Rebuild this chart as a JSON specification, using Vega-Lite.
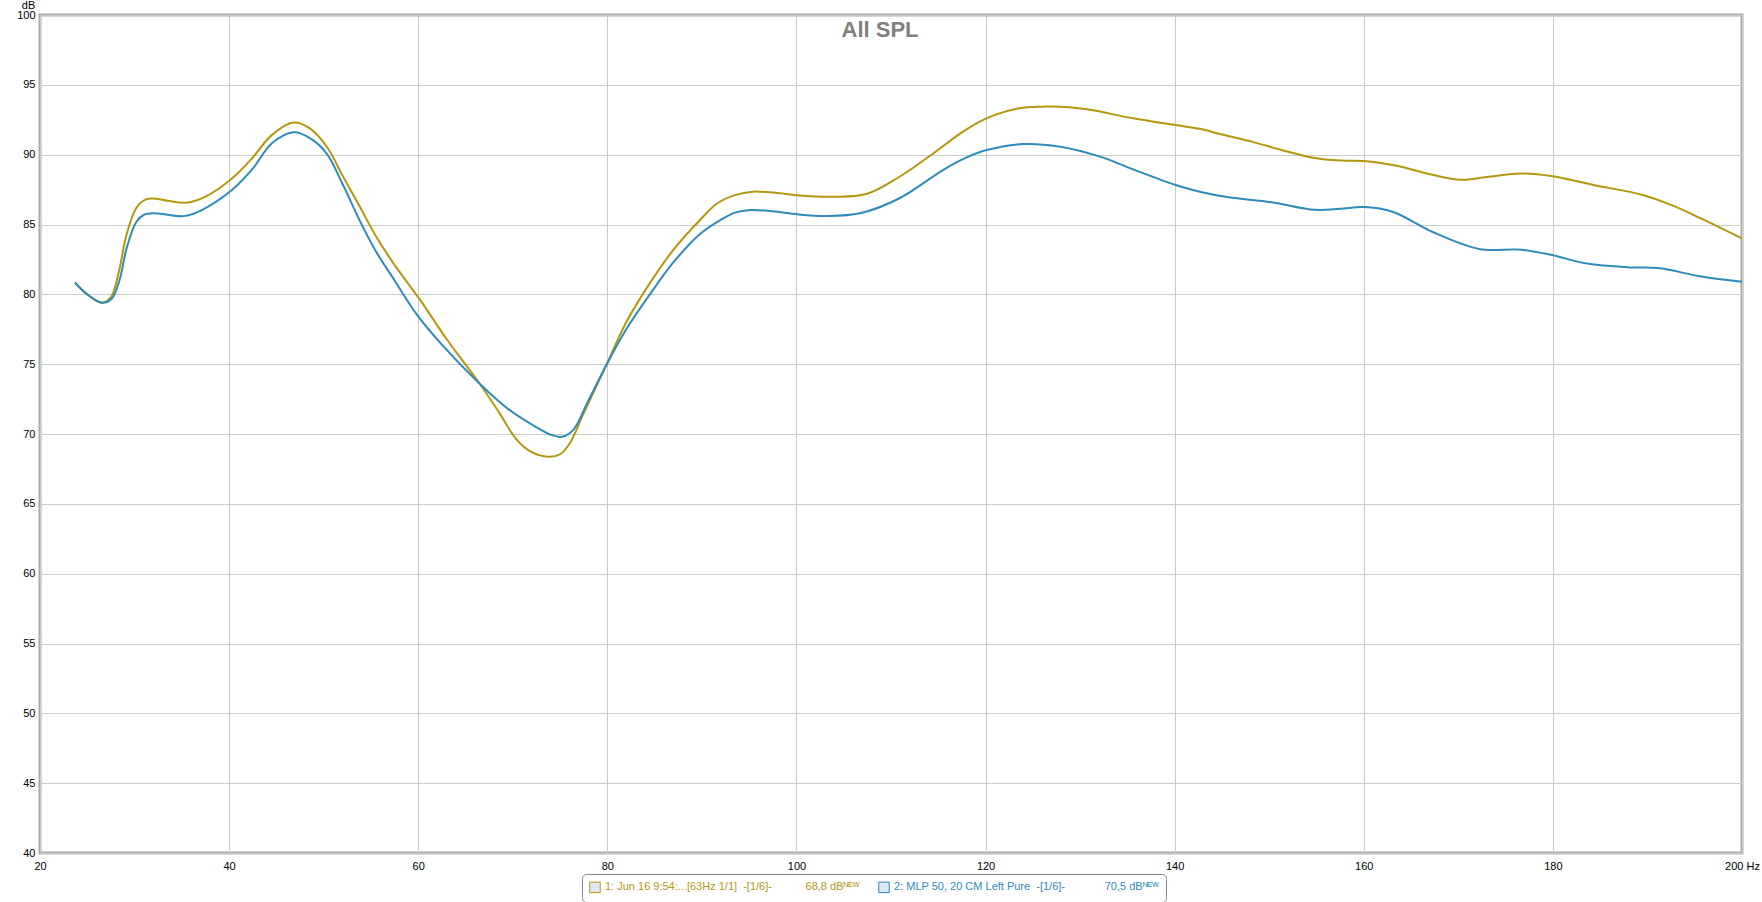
{
  "$schema": "https://vega.github.io/schema/vega-lite/v6.json",
  "width": 1702,
  "height": 838,
  "autosize": {"type": "none"},
  "padding": {"left": 40, "top": 15, "right": 20, "bottom": 49},
  "background": "white",
  "config": {
    "font": "Liberation Sans",
    "view": {"stroke": "#ababab", "strokeWidth": 3},
    "axis": {"grid": true, "gridColor": "#cbcbcb", "gridWidth": 1, "domain": false, "ticks": false, "labelFont": "Liberation Sans", "labelFontSize": 11, "labelColor": "#000000", "labelOverlap": false}
  },
  "title": {"text": "All SPL", "fontSize": 22, "fontWeight": "bold", "color": "#808080", "font": "Liberation Sans", "anchor": "middle", "frame": "group", "offset": 0, "dy": 43, "dx": -11},
  "data": {"values": [
    {"series": "1: Jun 16 9:54:...[63Hz 1/1]", "hz": 23.7, "db": 80.8},
    {"series": "1: Jun 16 9:54:...[63Hz 1/1]", "hz": 25.0, "db": 80.0},
    {"series": "1: Jun 16 9:54:...[63Hz 1/1]", "hz": 26.5, "db": 79.4},
    {"series": "1: Jun 16 9:54:...[63Hz 1/1]", "hz": 27.5, "db": 79.8},
    {"series": "1: Jun 16 9:54:...[63Hz 1/1]", "hz": 28.3, "db": 81.5},
    {"series": "1: Jun 16 9:54:...[63Hz 1/1]", "hz": 29.2, "db": 84.4},
    {"series": "1: Jun 16 9:54:...[63Hz 1/1]", "hz": 30.2, "db": 86.2},
    {"series": "1: Jun 16 9:54:...[63Hz 1/1]", "hz": 31.2, "db": 86.8},
    {"series": "1: Jun 16 9:54:...[63Hz 1/1]", "hz": 32.2, "db": 86.85},
    {"series": "1: Jun 16 9:54:...[63Hz 1/1]", "hz": 33.5, "db": 86.7},
    {"series": "1: Jun 16 9:54:...[63Hz 1/1]", "hz": 35.5, "db": 86.56},
    {"series": "1: Jun 16 9:54:...[63Hz 1/1]", "hz": 37.5, "db": 87.0},
    {"series": "1: Jun 16 9:54:...[63Hz 1/1]", "hz": 40.3, "db": 88.3},
    {"series": "1: Jun 16 9:54:...[63Hz 1/1]", "hz": 42.5, "db": 89.8},
    {"series": "1: Jun 16 9:54:...[63Hz 1/1]", "hz": 44.5, "db": 91.4},
    {"series": "1: Jun 16 9:54:...[63Hz 1/1]", "hz": 46.8, "db": 92.3},
    {"series": "1: Jun 16 9:54:...[63Hz 1/1]", "hz": 48.5, "db": 91.9},
    {"series": "1: Jun 16 9:54:...[63Hz 1/1]", "hz": 50.3, "db": 90.6},
    {"series": "1: Jun 16 9:54:...[63Hz 1/1]", "hz": 52.0, "db": 88.5},
    {"series": "1: Jun 16 9:54:...[63Hz 1/1]", "hz": 53.8, "db": 86.3},
    {"series": "1: Jun 16 9:54:...[63Hz 1/1]", "hz": 55.5, "db": 84.2},
    {"series": "1: Jun 16 9:54:...[63Hz 1/1]", "hz": 57.4, "db": 82.2},
    {"series": "1: Jun 16 9:54:...[63Hz 1/1]", "hz": 60.2, "db": 79.6},
    {"series": "1: Jun 16 9:54:...[63Hz 1/1]", "hz": 63.0, "db": 76.8},
    {"series": "1: Jun 16 9:54:...[63Hz 1/1]", "hz": 66.5, "db": 73.6},
    {"series": "1: Jun 16 9:54:...[63Hz 1/1]", "hz": 68.5, "db": 71.6},
    {"series": "1: Jun 16 9:54:...[63Hz 1/1]", "hz": 70.4, "db": 69.6},
    {"series": "1: Jun 16 9:54:...[63Hz 1/1]", "hz": 72.0, "db": 68.7},
    {"series": "1: Jun 16 9:54:...[63Hz 1/1]", "hz": 73.75, "db": 68.38},
    {"series": "1: Jun 16 9:54:...[63Hz 1/1]", "hz": 75.0, "db": 68.55},
    {"series": "1: Jun 16 9:54:...[63Hz 1/1]", "hz": 76.0, "db": 69.3},
    {"series": "1: Jun 16 9:54:...[63Hz 1/1]", "hz": 77.5, "db": 71.5},
    {"series": "1: Jun 16 9:54:...[63Hz 1/1]", "hz": 79.9, "db": 74.94},
    {"series": "1: Jun 16 9:54:...[63Hz 1/1]", "hz": 82.0, "db": 78.0},
    {"series": "1: Jun 16 9:54:...[63Hz 1/1]", "hz": 84.5, "db": 80.8},
    {"series": "1: Jun 16 9:54:...[63Hz 1/1]", "hz": 87.0, "db": 83.2},
    {"series": "1: Jun 16 9:54:...[63Hz 1/1]", "hz": 89.8, "db": 85.32},
    {"series": "1: Jun 16 9:54:...[63Hz 1/1]", "hz": 91.6, "db": 86.5},
    {"series": "1: Jun 16 9:54:...[63Hz 1/1]", "hz": 93.5, "db": 87.1},
    {"series": "1: Jun 16 9:54:...[63Hz 1/1]", "hz": 95.4, "db": 87.35},
    {"series": "1: Jun 16 9:54:...[63Hz 1/1]", "hz": 98.0, "db": 87.25},
    {"series": "1: Jun 16 9:54:...[63Hz 1/1]", "hz": 100.0, "db": 87.1},
    {"series": "1: Jun 16 9:54:...[63Hz 1/1]", "hz": 103.9, "db": 86.99},
    {"series": "1: Jun 16 9:54:...[63Hz 1/1]", "hz": 107.4, "db": 87.18},
    {"series": "1: Jun 16 9:54:...[63Hz 1/1]", "hz": 110.9, "db": 88.42},
    {"series": "1: Jun 16 9:54:...[63Hz 1/1]", "hz": 114.5, "db": 90.1},
    {"series": "1: Jun 16 9:54:...[63Hz 1/1]", "hz": 117.5, "db": 91.6},
    {"series": "1: Jun 16 9:54:...[63Hz 1/1]", "hz": 120.1, "db": 92.6},
    {"series": "1: Jun 16 9:54:...[63Hz 1/1]", "hz": 123.6, "db": 93.32},
    {"series": "1: Jun 16 9:54:...[63Hz 1/1]", "hz": 127.2, "db": 93.44},
    {"series": "1: Jun 16 9:54:...[63Hz 1/1]", "hz": 130.7, "db": 93.25},
    {"series": "1: Jun 16 9:54:...[63Hz 1/1]", "hz": 135.6, "db": 92.6},
    {"series": "1: Jun 16 9:54:...[63Hz 1/1]", "hz": 140.1, "db": 92.12},
    {"series": "1: Jun 16 9:54:...[63Hz 1/1]", "hz": 142.65, "db": 91.85},
    {"series": "1: Jun 16 9:54:...[63Hz 1/1]", "hz": 144.8, "db": 91.48},
    {"series": "1: Jun 16 9:54:...[63Hz 1/1]", "hz": 148.3, "db": 90.9},
    {"series": "1: Jun 16 9:54:...[63Hz 1/1]", "hz": 151.5, "db": 90.3},
    {"series": "1: Jun 16 9:54:...[63Hz 1/1]", "hz": 154.8, "db": 89.76},
    {"series": "1: Jun 16 9:54:...[63Hz 1/1]", "hz": 157.5, "db": 89.58},
    {"series": "1: Jun 16 9:54:...[63Hz 1/1]", "hz": 160.0, "db": 89.55},
    {"series": "1: Jun 16 9:54:...[63Hz 1/1]", "hz": 163.5, "db": 89.2},
    {"series": "1: Jun 16 9:54:...[63Hz 1/1]", "hz": 167.0, "db": 88.6},
    {"series": "1: Jun 16 9:54:...[63Hz 1/1]", "hz": 170.3, "db": 88.2},
    {"series": "1: Jun 16 9:54:...[63Hz 1/1]", "hz": 173.0, "db": 88.4},
    {"series": "1: Jun 16 9:54:...[63Hz 1/1]", "hz": 176.7, "db": 88.65},
    {"series": "1: Jun 16 9:54:...[63Hz 1/1]", "hz": 180.0, "db": 88.45},
    {"series": "1: Jun 16 9:54:...[63Hz 1/1]", "hz": 184.3, "db": 87.83},
    {"series": "1: Jun 16 9:54:...[63Hz 1/1]", "hz": 189.6, "db": 87.1},
    {"series": "1: Jun 16 9:54:...[63Hz 1/1]", "hz": 192.5, "db": 86.4},
    {"series": "1: Jun 16 9:54:...[63Hz 1/1]", "hz": 195.7, "db": 85.42},
    {"series": "1: Jun 16 9:54:...[63Hz 1/1]", "hz": 200.0, "db": 84.0},
    {"series": "2: MLP 50, 20 CM Left Pure", "hz": 23.7, "db": 80.85},
    {"series": "2: MLP 50, 20 CM Left Pure", "hz": 25.0, "db": 80.0},
    {"series": "2: MLP 50, 20 CM Left Pure", "hz": 26.6, "db": 79.4},
    {"series": "2: MLP 50, 20 CM Left Pure", "hz": 27.6, "db": 79.7},
    {"series": "2: MLP 50, 20 CM Left Pure", "hz": 28.4, "db": 81.0},
    {"series": "2: MLP 50, 20 CM Left Pure", "hz": 29.2, "db": 83.4},
    {"series": "2: MLP 50, 20 CM Left Pure", "hz": 30.2, "db": 85.2},
    {"series": "2: MLP 50, 20 CM Left Pure", "hz": 31.0, "db": 85.7},
    {"series": "2: MLP 50, 20 CM Left Pure", "hz": 32.0, "db": 85.8},
    {"series": "2: MLP 50, 20 CM Left Pure", "hz": 33.5, "db": 85.7},
    {"series": "2: MLP 50, 20 CM Left Pure", "hz": 35.2, "db": 85.6},
    {"series": "2: MLP 50, 20 CM Left Pure", "hz": 37.0, "db": 86.0},
    {"series": "2: MLP 50, 20 CM Left Pure", "hz": 40.3, "db": 87.47},
    {"series": "2: MLP 50, 20 CM Left Pure", "hz": 42.5, "db": 89.0},
    {"series": "2: MLP 50, 20 CM Left Pure", "hz": 44.5, "db": 90.8},
    {"series": "2: MLP 50, 20 CM Left Pure", "hz": 46.8, "db": 91.6},
    {"series": "2: MLP 50, 20 CM Left Pure", "hz": 48.5, "db": 91.2},
    {"series": "2: MLP 50, 20 CM Left Pure", "hz": 50.3, "db": 90.1},
    {"series": "2: MLP 50, 20 CM Left Pure", "hz": 52.0, "db": 87.9},
    {"series": "2: MLP 50, 20 CM Left Pure", "hz": 53.8, "db": 85.3},
    {"series": "2: MLP 50, 20 CM Left Pure", "hz": 55.5, "db": 83.1},
    {"series": "2: MLP 50, 20 CM Left Pure", "hz": 57.4, "db": 81.1},
    {"series": "2: MLP 50, 20 CM Left Pure", "hz": 59.8, "db": 78.6},
    {"series": "2: MLP 50, 20 CM Left Pure", "hz": 62.5, "db": 76.4},
    {"series": "2: MLP 50, 20 CM Left Pure", "hz": 66.5, "db": 73.6},
    {"series": "2: MLP 50, 20 CM Left Pure", "hz": 69.5, "db": 71.8},
    {"series": "2: MLP 50, 20 CM Left Pure", "hz": 72.2, "db": 70.6},
    {"series": "2: MLP 50, 20 CM Left Pure", "hz": 74.0, "db": 69.95},
    {"series": "2: MLP 50, 20 CM Left Pure", "hz": 75.2, "db": 69.8},
    {"series": "2: MLP 50, 20 CM Left Pure", "hz": 76.4, "db": 70.3},
    {"series": "2: MLP 50, 20 CM Left Pure", "hz": 78.0, "db": 72.4},
    {"series": "2: MLP 50, 20 CM Left Pure", "hz": 79.9, "db": 74.94},
    {"series": "2: MLP 50, 20 CM Left Pure", "hz": 82.0, "db": 77.5},
    {"series": "2: MLP 50, 20 CM Left Pure", "hz": 84.5, "db": 80.0},
    {"series": "2: MLP 50, 20 CM Left Pure", "hz": 87.0, "db": 82.3},
    {"series": "2: MLP 50, 20 CM Left Pure", "hz": 89.8, "db": 84.32},
    {"series": "2: MLP 50, 20 CM Left Pure", "hz": 91.9, "db": 85.3},
    {"series": "2: MLP 50, 20 CM Left Pure", "hz": 93.5, "db": 85.85},
    {"series": "2: MLP 50, 20 CM Left Pure", "hz": 95.1, "db": 86.04},
    {"series": "2: MLP 50, 20 CM Left Pure", "hz": 97.5, "db": 85.95},
    {"series": "2: MLP 50, 20 CM Left Pure", "hz": 100.1, "db": 85.73},
    {"series": "2: MLP 50, 20 CM Left Pure", "hz": 103.2, "db": 85.61},
    {"series": "2: MLP 50, 20 CM Left Pure", "hz": 106.7, "db": 85.8},
    {"series": "2: MLP 50, 20 CM Left Pure", "hz": 110.9, "db": 86.88},
    {"series": "2: MLP 50, 20 CM Left Pure", "hz": 115.5, "db": 88.9},
    {"series": "2: MLP 50, 20 CM Left Pure", "hz": 118.0, "db": 89.8},
    {"series": "2: MLP 50, 20 CM Left Pure", "hz": 120.1, "db": 90.33},
    {"series": "2: MLP 50, 20 CM Left Pure", "hz": 124.0, "db": 90.76},
    {"series": "2: MLP 50, 20 CM Left Pure", "hz": 127.9, "db": 90.57},
    {"series": "2: MLP 50, 20 CM Left Pure", "hz": 132.1, "db": 89.86},
    {"series": "2: MLP 50, 20 CM Left Pure", "hz": 135.6, "db": 88.95},
    {"series": "2: MLP 50, 20 CM Left Pure", "hz": 140.1, "db": 87.83},
    {"series": "2: MLP 50, 20 CM Left Pure", "hz": 142.65, "db": 87.35},
    {"series": "2: MLP 50, 20 CM Left Pure", "hz": 145.7, "db": 86.95},
    {"series": "2: MLP 50, 20 CM Left Pure", "hz": 150.2, "db": 86.6},
    {"series": "2: MLP 50, 20 CM Left Pure", "hz": 154.8, "db": 86.05},
    {"series": "2: MLP 50, 20 CM Left Pure", "hz": 157.5, "db": 86.12},
    {"series": "2: MLP 50, 20 CM Left Pure", "hz": 160.0, "db": 86.25},
    {"series": "2: MLP 50, 20 CM Left Pure", "hz": 163.1, "db": 85.9},
    {"series": "2: MLP 50, 20 CM Left Pure", "hz": 167.3, "db": 84.46},
    {"series": "2: MLP 50, 20 CM Left Pure", "hz": 172.2, "db": 83.25},
    {"series": "2: MLP 50, 20 CM Left Pure", "hz": 176.7, "db": 83.2},
    {"series": "2: MLP 50, 20 CM Left Pure", "hz": 180.0, "db": 82.8},
    {"series": "2: MLP 50, 20 CM Left Pure", "hz": 183.6, "db": 82.2},
    {"series": "2: MLP 50, 20 CM Left Pure", "hz": 188.1, "db": 81.93},
    {"series": "2: MLP 50, 20 CM Left Pure", "hz": 191.1, "db": 81.88},
    {"series": "2: MLP 50, 20 CM Left Pure", "hz": 195.7, "db": 81.28},
    {"series": "2: MLP 50, 20 CM Left Pure", "hz": 200.0, "db": 80.9}
  ]},
  "mark": {"type": "line", "interpolate": "catmull-rom", "strokeWidth": 2, "clip": true},
  "encoding": {
    "x": {
      "field": "hz", "type": "quantitative",
      "scale": {"domain": [20, 200], "nice": false, "zero": false},
      "axis": {"values": [20, 40, 60, 80, 100, 120, 140, 160, 180, 200], "labelExpr": "datum.value == 200 ? '200 Hz' : datum.label", "title": null, "labelPadding": 7, "labelFlush": false}
    },
    "y": {
      "field": "db", "type": "quantitative",
      "scale": {"domain": [40, 100], "nice": false, "zero": false},
      "axis": {"values": [40, 45, 50, 55, 60, 65, 70, 75, 80, 85, 90, 95, 100], "title": "dB", "titleAngle": 0, "titleX": -12, "titleY": -5, "titleAlign": "center", "titleBaseline": "bottom", "titleFontWeight": "normal", "titleFontSize": 11, "titleFont": "Liberation Sans", "titleColor": "#000000", "labelPadding": 5}
    },
    "color": {
      "field": "series", "type": "nominal",
      "scale": {"domain": ["1: Jun 16 9:54:...[63Hz 1/1]", "2: MLP 50, 20 CM Left Pure"], "range": ["#B5960F", "#2E8BBA"]},
      "legend": {
        "title": null,
        "orient": "none",
        "legendX": 542,
        "legendY": 859,
        "direction": "horizontal",
        "symbolType": "square",
        "symbolSize": 110,
        "symbolStrokeWidth": 1,
        "labelOffset": 4,
        "labelFont": "Liberation Sans",
        "labelFontSize": 11,
        "labelLimit": 500,
        "columnPadding": 16,
        "padding": 7,
        "strokeColor": "#8a8a8a",
        "fillColor": "#ffffff",
        "cornerRadius": 4,
        "labelExpr": "datum.label + (indexof(datum.label, '1:') == 0 ? '\u00a0 -[1/6]-\u00a0\u00a0\u00a0\u00a0\u00a0\u00a0\u00a0\u00a0\u00a0\u00a0 68,8 dB\u1d3a\u1d31\u1d42' : '\u00a0 -[1/6]-\u00a0\u00a0\u00a0\u00a0\u00a0\u00a0\u00a0\u00a0\u00a0\u00a0\u00a0\u00a0 70,5 dB\u1d3a\u1d31\u1d42')",
        "encode": {
          "labels": {"update": {"fill": {"scale": "color", "field": "value"}}},
          "symbols": {"update": {"fill": {"value": "#dfe7f5"}, "stroke": {"value": "#6f6f6f"}}}
        }
      }
    }
  }
}
